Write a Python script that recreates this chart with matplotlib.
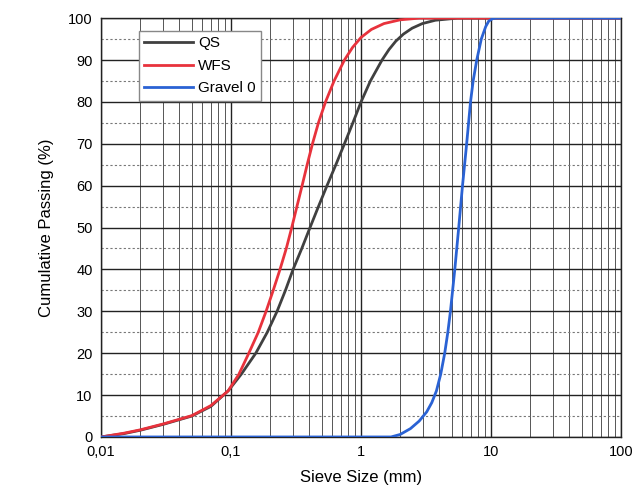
import numpy as np
import matplotlib
matplotlib.use("Agg")
import matplotlib.pyplot as plt
from matplotlib.ticker import FixedLocator, NullFormatter, LogLocator

plt.rcParams['font.family'] = ['Liberation Sans', 'DejaVu Sans']

# grain size curves (mm, % passing)
QS_size = [0.01, 0.015, 0.02, 0.03, 0.05, 0.07, 0.095, 0.12, 0.155, 0.19, 0.226, 0.262,
           0.30, 0.35, 0.405, 0.47, 0.547, 0.64, 0.745, 0.865, 1.0, 1.18, 1.45, 1.64,
           1.85, 2.12, 2.47, 2.96, 3.73, 5.5, 100]
QS_pass = [0, 0.8, 1.6, 3.0, 5.0, 7.3, 11, 15, 20, 25, 30, 35,
           40, 45, 50, 55, 60, 65, 70, 75, 80, 85, 90, 92.5,
           94.5, 96.2, 97.6, 98.7, 99.5, 100, 100]

WFS_size = [0.01, 0.015, 0.02, 0.03, 0.05, 0.07, 0.095, 0.115, 0.137, 0.162, 0.186, 0.211,
            0.238, 0.266, 0.293, 0.321, 0.352, 0.385, 0.423, 0.47, 0.533, 0.62, 0.745,
            0.86, 1.0, 1.2, 1.5, 2.0, 2.8, 100]
WFS_pass = [0, 0.9, 1.7, 3.1, 5.1, 7.5, 11, 15, 20, 25, 30, 35,
            40, 45, 50, 55, 60, 65, 70, 75, 80, 85, 90,
            93, 95.4, 97.3, 98.7, 99.6, 100, 100]

GR_size = [0.01, 1.7, 2.0, 2.4, 2.8, 3.2, 3.5, 3.8, 4.1, 4.4, 4.65, 4.87, 5.26, 5.64,
           6.03, 6.49, 6.95, 7.28, 7.76, 8.41, 9.1, 9.6, 10.3, 11, 100]
GR_pass = [0, 0, 0.6, 2.0, 3.8, 6.0, 8.2, 11, 15, 20, 25, 30, 40, 50,
           60, 70, 80, 85, 90, 95, 98, 99.3, 99.9, 100, 100]

x_ticks = [0.01, 0.1, 1, 10, 100]
x_labels = ["0,01", "0,1", "1", "10", "100"]
y_ticks = list(range(0, 101, 10))

fig = plt.figure(figsize=(6.37, 5.04), dpi=100)
ax = fig.add_axes([0.1586, 0.133, 0.8164, 0.831])

ax.plot(QS_size, QS_pass, color='#404040', lw=2, label='QS', zorder=3)
ax.plot(WFS_size, WFS_pass, color='#e8323c', lw=2, label='WFS', zorder=3)
ax.plot(GR_size, GR_pass, color='#2a62d4', lw=2, label='Gravel 0', zorder=3)

ax.set_xscale('log')
ax.set_xlim(0.01, 100)
ax.set_ylim(0, 100)
ax.xaxis.set_major_locator(FixedLocator(x_ticks))
ax.set_xticklabels(x_labels)
ax.xaxis.set_minor_locator(LogLocator(base=10, subs=np.arange(2, 10)))
ax.xaxis.set_minor_formatter(NullFormatter())
ax.set_yticks(y_ticks)
ax.yaxis.set_minor_locator(FixedLocator(np.arange(5, 100, 10)))

ax.grid(which='major', axis='both', color='#222222', lw=1.0)
ax.grid(which='minor', axis='x', color='#555555', lw=0.7)
ax.grid(which='minor', axis='y', color='#777777', lw=0.8, ls=(0, (2, 2)))
ax.set_axisbelow(True)

ax.tick_params(which='both', length=0, labelsize=10.5, pad=6)
for s in ax.spines.values():
    s.set_color('#222222')
    s.set_linewidth(1.0)

ax.set_xlabel('Sieve Size (mm)', fontsize=12, labelpad=8)
ax.set_ylabel('Cumulative Passing (%)', fontsize=12, labelpad=10)

leg = ax.legend(loc='upper left', bbox_to_anchor=(0.073, 0.969), borderaxespad=0,
                fontsize=11, handlelength=3.2, handletextpad=0.3, labelspacing=0.55,
                borderpad=0.35, fancybox=False, framealpha=1, edgecolor='#888888')
leg.get_frame().set_linewidth(1.0)

fig.savefig('out.png', dpi=100)
